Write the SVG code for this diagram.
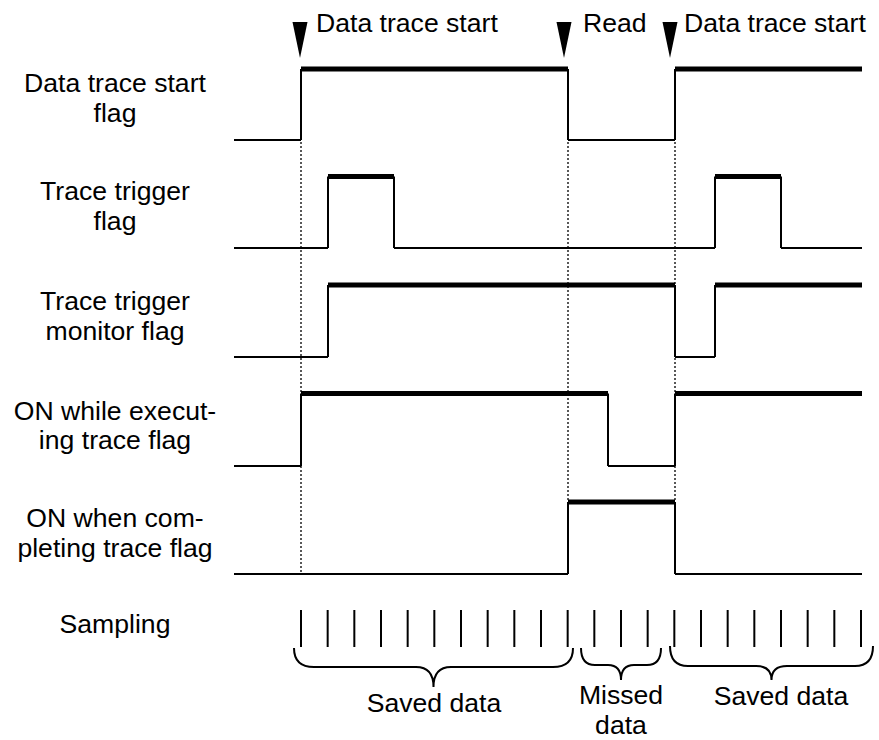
<svg xmlns="http://www.w3.org/2000/svg" width="879" height="740" viewBox="0 0 879 740">
<style>
text{font-family:"Liberation Sans",Arial,sans-serif;font-size:26.6px;fill:#000}
.lbl{text-anchor:middle}
.lo{stroke:#000;stroke-width:2;fill:none}
.hi{stroke:#000;stroke-width:5;fill:none}
.v{stroke:#000;stroke-width:2;fill:none}
.dot{stroke:#222;stroke-width:1.5;stroke-dasharray:2 2;fill:none}
.tick{stroke:#000;stroke-width:2}
.brace{stroke:#000;stroke-width:2;fill:none}
.tri{fill:#000}
</style>
<rect width="879" height="740" fill="#fff"/>
<g id="guides">
<line class="dot" x1="301" y1="142" x2="301" y2="574"/>
<line class="dot" x1="568" y1="142" x2="568" y2="500"/>
<line class="dot" x1="675" y1="142" x2="675" y2="500"/>
</g>
<g id="events">
<polygon class="tri" points="292.5,22 307.5,22 300,58"/>
<polygon class="tri" points="556.5,22 571.5,22 564,58"/>
<polygon class="tri" points="662.5,22 677.5,22 670,58"/>
<text x="316" y="32">Data trace start</text>
<text x="583" y="32">Read</text>
<text x="684" y="32">Data trace start</text>
</g>
<g id="labels">
<text class="lbl" x="115" y="92">Data trace start</text>
<text class="lbl" x="115" y="122">flag</text>
<text class="lbl" x="115" y="200">Trace trigger</text>
<text class="lbl" x="115" y="230">flag</text>
<text class="lbl" x="115" y="310">Trace trigger</text>
<text class="lbl" x="115" y="340">monitor flag</text>
<text class="lbl" x="115" y="420">ON while execut-</text>
<text class="lbl" x="115" y="449">ing trace flag</text>
<text class="lbl" x="115" y="527">ON when com-</text>
<text class="lbl" x="115" y="557">pleting trace flag</text>
<text class="lbl" x="115" y="633">Sampling</text>
</g>
<g id="sig-data-trace-start">
<path class="lo" d="M234,140 H301 M568,140 H675"/>
<path class="v" d="M301,140 V69 M568,69 V140 M675,140 V69"/>
<path class="hi" d="M301,69 H568 M675,69 H862"/>
</g>
<g id="sig-trace-trigger">
<path class="lo" d="M234,248 H328 M394,248 H715 M781,248 H862"/>
<path class="v" d="M328,248 V176.5 M394,176.5 V248 M715,248 V176.5 M781,176.5 V248"/>
<path class="hi" d="M328,176.5 H394 M715,176.5 H781"/>
</g>
<g id="sig-trace-trigger-monitor">
<path class="lo" d="M234,357 H328 M675,357 H715"/>
<path class="v" d="M328,357 V285 M675,285 V357 M715,357 V285"/>
<path class="hi" d="M328,285 H675 M715,285 H862"/>
</g>
<g id="sig-executing">
<path class="lo" d="M234,466 H301 M608,466 H675"/>
<path class="v" d="M301,466 V393.5 M608,393.5 V466 M675,466 V393.5"/>
<path class="hi" d="M301,393.5 H608 M675,393.5 H862"/>
</g>
<g id="sig-completing">
<path class="lo" d="M234,574 H568 M675,574 H862"/>
<path class="v" d="M568,574 V502 M675,502 V574"/>
<path class="hi" d="M568,502 H675"/>
</g>
<g id="sampling">
<path class="tick" d="M301,610V647 M327.67,610V647 M354.33,610V647 M381,610V647 M407.67,610V647 M434.33,610V647 M461,610V647 M487.67,610V647 M514.33,610V647 M541,610V647 M567.67,610V647 M594.33,610V647 M621,610V647 M647.67,610V647 M674.33,610V647 M701,610V647 M727.67,610V647 M754.33,610V647 M781,610V647 M807.67,610V647 M834.33,610V647 M861,610V647"/>
</g>
<g id="braces">
<path class="brace" d="M294,648 Q294,667 314,667 L416,667 Q433.5,667 433.5,687 Q433.5,667 451,667 L553,667 Q573,667 573,648"/>
<path class="brace" d="M581,648 Q581,665 595,665 L608,665 Q621,665 621,680 Q621,665 634,665 L647,665 Q661,665 661,648"/>
<path class="brace" d="M670,646 Q670,666 688,666 L756,666 Q771.5,666 771.5,680 Q771.5,666 787,666 L855,666 Q873,666 873,646"/>
</g>
<g id="bottom-labels">
<text class="lbl" x="434" y="712">Saved data</text>
<text class="lbl" x="621" y="704">Missed</text>
<text class="lbl" x="621" y="734">data</text>
<text class="lbl" x="781" y="705">Saved data</text>
</g>
</svg>
